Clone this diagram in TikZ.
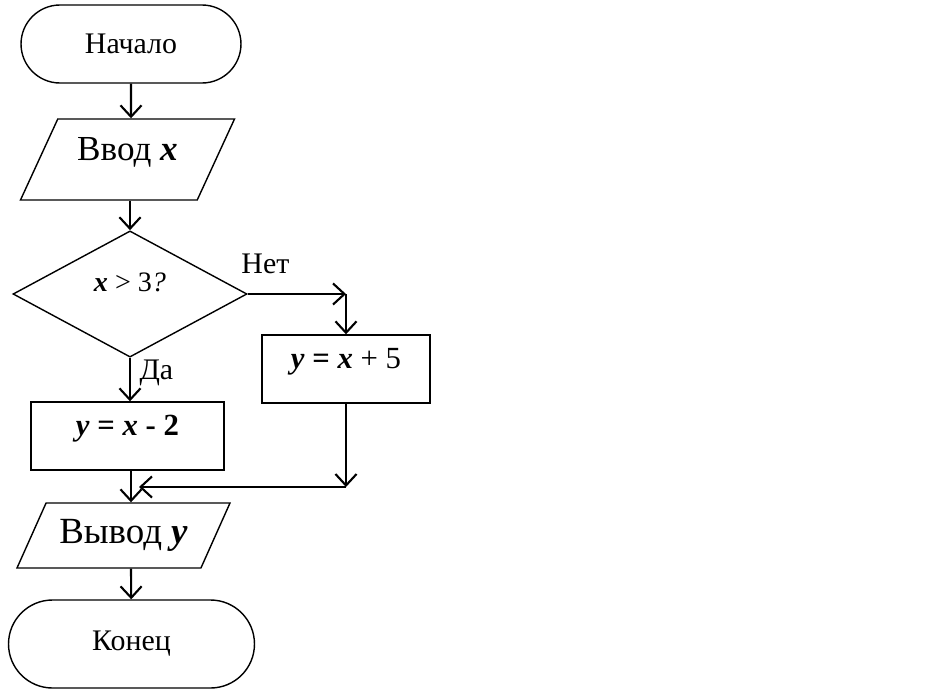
\documentclass[tikz,border=0pt]{standalone}
\usepackage{fontspec}
\setmainfont{Liberation Serif}
\usetikzlibrary{arrows.meta,shapes.geometric,shapes.misc}

\begin{document}
\begin{tikzpicture}[>={Straight Barb[length=6.5pt,width=12pt]},
 every node/.style={align=center,inner sep=2pt},
 term/.style={draw,line width=0.8pt,rounded rectangle,font=\fontsize{17}{20}\selectfont},
 iobox/.style={draw,line width=0.8pt,trapezium,trapezium stretches=true},
 proc/.style={draw,line width=0.8pt,rectangle,minimum height=1.36cm,
   text height=11pt,text depth=11.9pt,font=\fontsize{17.5}{20}\selectfont},
 cond/.style={draw,line width=0.8pt,diamond,minimum width=4.68cm,minimum height=2.44cm,
   text height=10pt,text depth=12.8pt,font=\fontsize{16}{19}\selectfont},
 lbl/.style={font=\fontsize{17}{20}\selectfont},
 flow/.style={->,line width=1.2pt}]
    \useasboundingbox (0,0) rectangle (18.56,-13.88);
    \node[term,minimum width=4.54cm,minimum height=1.56cm] (start) at (2.62,-0.88) {Начало};
    \node[iobox,trapezium left angle=62,trapezium right angle=118,
          minimum width=4.30cm,minimum height=1.62cm,text height=14pt,text depth=12.8pt,
          font=\fontsize{20}{24}\selectfont] (input) at (2.55,-3.19)
      {Ввод \textbf{\textit{x}}};
    \node[cond] (test) at (2.60,-5.88) {\textbf{\textit{x}} > 3\textit{?}};
    \node[proc,minimum width=3.36cm] (plus) at (6.92,-7.38)
      {\textbf{\textit{y} = \textit{x}} + 5};
    \node[proc,minimum width=3.86cm] (minus) at (2.55,-8.72)
      {\textbf{\textit{y} = \textit{x} - 2}};
    \coordinate (join) at (2.78,-9.74);
    \node[iobox,trapezium left angle=57,trapezium right angle=123,
          minimum width=4.26cm,minimum height=1.30cm,
          font=\fontsize{21}{25}\selectfont] (output) at (2.47,-10.71)
      {Вывод \textbf{\textit{y}}};
    \node[term,minimum width=5.06cm,minimum height=1.76cm] (stop) at (2.63,-12.88) {Конец};
    \draw[flow] (start) -- (start |- input.north);
    \draw[flow] (input.south -| test) -- (test.north);
    \draw[flow] (test.east) -- (test.east -| plus)
      node[lbl,pos=0.18,anchor=base,yshift=0.42cm]{Нет};
    \draw[flow] (test.east -| plus) -- (plus.north);
    \draw[flow] (test.south) -- (test.south |- minus.north)
      node[lbl,pos=0.51,anchor=base west,xshift=0.1cm]{Да};
    \draw[flow] (plus.south) -- (plus.south |- join);
    \draw[flow] (plus.south |- join) -- (join);
    \draw[flow] (minus.south -| start) -- (start |- output.north);
    \draw[flow] (output.south -| start) -- (stop);
\end{tikzpicture}
\end{document}
